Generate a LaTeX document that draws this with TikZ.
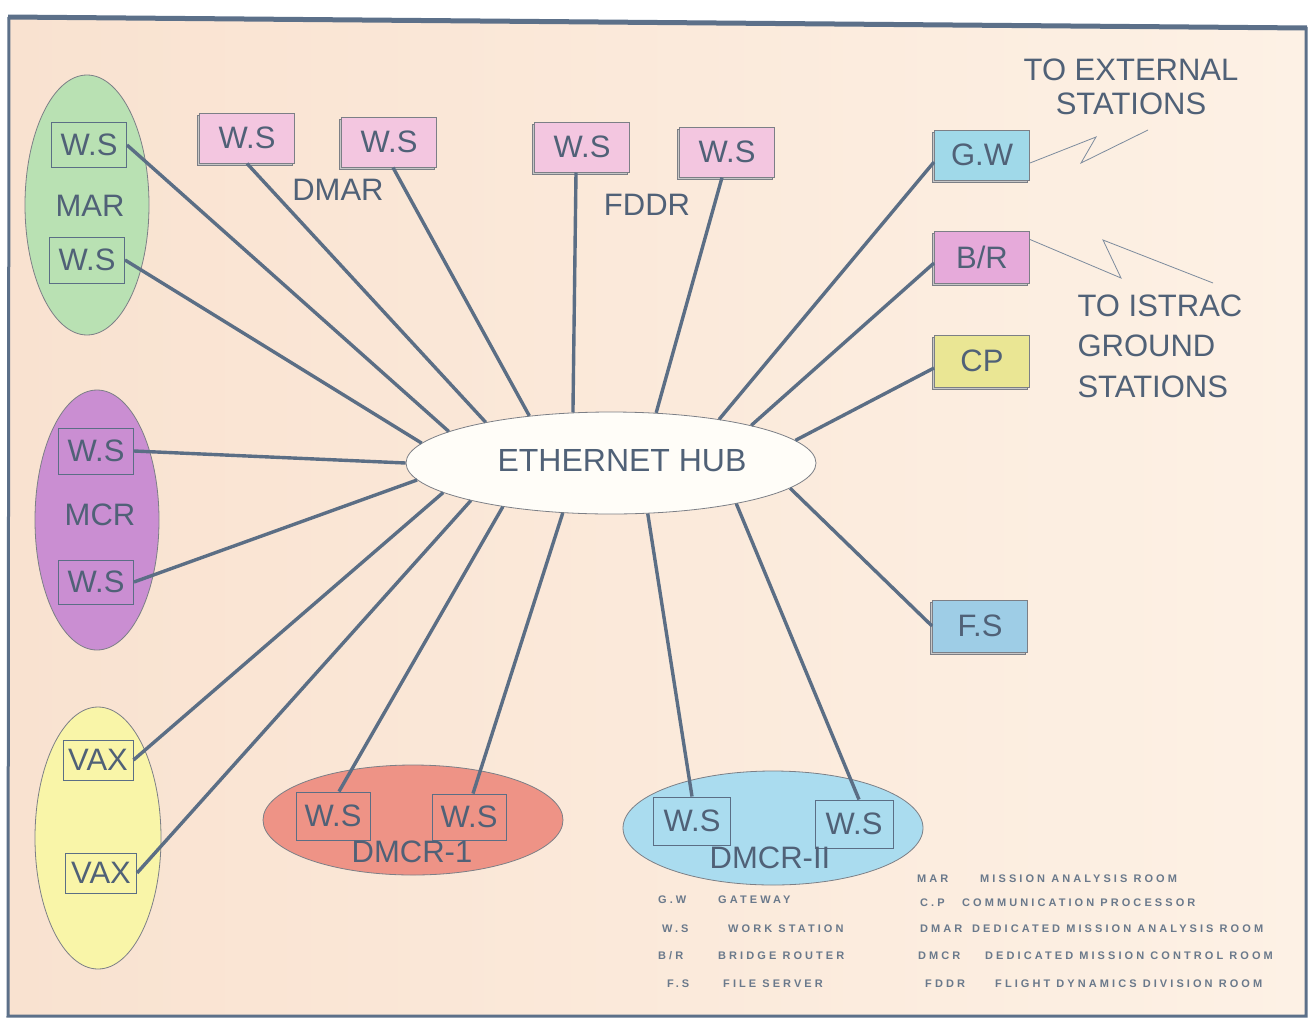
\documentclass[tikz,border=0pt]{standalone}
\usepackage{fontspec}
\setmainfont{Liberation Sans}
\newfontfamily\legendfont[LetterSpace=28]{Liberation Sans}
\usetikzlibrary{shapes.geometric,shadows}

\definecolor{paperL}{HTML}{F9E2D0}
\definecolor{paperR}{HTML}{FDF1E5}
\definecolor{frame}{HTML}{5C7089}
\definecolor{ink}{HTML}{506177}
\definecolor{wire}{HTML}{5B6E85}
\definecolor{rim}{HTML}{7C7F86}
\definecolor{marfill}{HTML}{B9E1B3}
\definecolor{mcrfill}{HTML}{CA8ED2}
\definecolor{vaxfill}{HTML}{F9F5A8}
\definecolor{dmcrAfill}{HTML}{EE9386}
\definecolor{dmcrBfill}{HTML}{AADCEF}
\definecolor{wsfill}{HTML}{F3C6E0}
\definecolor{gwfill}{HTML}{A0D9E9}
\definecolor{brfill}{HTML}{E6AADA}
\definecolor{cpfill}{HTML}{EAE694}
\definecolor{fsfill}{HTML}{9ECDE6}
\definecolor{hubfill}{HTML}{FFFDF8}

\tikzset{
  big/.style={font=\fontsize{31}{36}\selectfont, text=ink},
  room/.style={ellipse, draw=rim, line width=0.8pt, inner sep=0pt},
  inbox/.style={rectangle, draw=wire, line width=1pt, big, inner sep=0pt},
  unit/.style={rectangle, draw=rim, line width=1pt, big, inner sep=0pt,
    minimum width=95pt, minimum height=50pt,
    copy shadow={shadow xshift=-2.5pt, shadow yshift=-2.5pt, fill=black!22, draw=rim}},
  link/.style={draw=wire, line width=3.4pt},
  radio/.style={draw=wire!80, line width=0.8pt},
  legend/.style={font=\legendfont\bfseries\fontsize{11}{13}\selectfont, text=ink!85, anchor=west, inner sep=0pt}
}

\begin{document}
\begin{tikzpicture}[x=1pt,y=-1pt]
\useasboundingbox (0,0) rectangle (1311,1020);

% paper and frame
\fill[white] (0,0) rectangle (1311,1020);
\shade[left color=paperL, right color=paperR] (10,18) -- (1306,28) -- (1306,1016) -- (8,1016) -- cycle;
\draw[frame, line width=5pt] (8,17) -- (1307,28);
\draw[frame, line width=3pt] (1306,27) -- (1306,1016) -- (8,1016) -- (9,17);

% rooms
\node[room, fill=marfill, minimum width=124pt, minimum height=260pt] (mar) at (87,205) {};
\node[room, fill=mcrfill, minimum width=124pt, minimum height=260pt] (mcr) at (97,520) {};
\node[room, fill=vaxfill, minimum width=126pt, minimum height=262pt] (vaxr) at (98,838) {};
\node[room, fill=dmcrAfill, minimum width=300pt, minimum height=110pt] (dmcra) at (413,820) {};
\node[room, fill=dmcrBfill, minimum width=300pt, minimum height=114pt] (dmcrb) at (773,828) {};

% hub
\node[room, fill=hubfill, minimum width=410pt, minimum height=102pt] (hub) at (611,463) {};
\node[big, font=\fontsize{32}{36}\selectfont] (hubtxt) at (622,461) {ETHERNET HUB};

% machines inside rooms
\node[inbox, minimum width=75pt, minimum height=45pt] (maws1) at (89,145) {W.S};
\node[big] (marlbl) at (90,206) {MAR};
\node[inbox, minimum width=75pt, minimum height=46pt] (maws2) at (87,260) {W.S};

\node[inbox, minimum width=75pt, minimum height=46pt] (mcws1) at (96,451) {W.S};
\node[big] (mcrlbl) at (100,515) {MCR};
\node[inbox, minimum width=75pt, minimum height=44pt] (mcws2) at (96,582) {W.S};

\node[inbox, minimum width=70pt, minimum height=40pt] (vax1) at (98,760) {VAX};
\node[inbox, minimum width=71pt, minimum height=40pt] (vax2) at (101,873) {VAX};

\node[inbox, minimum width=74pt, minimum height=48pt] (d1a) at (333,816) {W.S};
\node[inbox, minimum width=74pt, minimum height=46pt] (d1b) at (469,817) {W.S};
\node[big] (d1lbl) at (412,852) {DMCR-1};

\node[inbox, minimum width=77pt, minimum height=48pt] (d2a) at (692,821) {W.S};
\node[inbox, minimum width=78pt, minimum height=48pt] (d2b) at (854,824) {W.S};
\node[big] (d2lbl) at (770,858) {DMCR-II};

% stand-alone units
\node[unit, fill=wsfill] (dm1) at (247,138) {W.S};
\node[unit, fill=wsfill] (dm2) at (389,142) {W.S};
\node[big] (dmarlbl) at (338,190) {DMAR};
\node[unit, fill=wsfill] (fd1) at (582,147) {W.S};
\node[unit, fill=wsfill] (fd2) at (727,152) {W.S};
\node[big] (fddrlbl) at (647,205) {FDDR};

\node[unit, fill=gwfill] (gw) at (982,155) {G.W};
\node[unit, fill=brfill, minimum height=52pt] (br) at (982,257) {B/R};
\node[unit, fill=cpfill, minimum height=52pt] (cp) at (982,361) {CP};
\node[unit, fill=fsfill, minimum height=52pt] (fs) at (980,626) {F.S};

% links to the hub
\draw[link] (maws1.east) -- (hub.169);
\draw[link] (maws2.east) -- (hub.174);
\draw[link] (dm1.south) -- (hub.162);
\draw[link] ([xshift=4pt]dm2.south) -- (hub.150);
\draw[link] ([xshift=-6pt]fd1.south) -- (hub.127);
\draw[link] ([xshift=-5pt]fd2.south) -- (hub.48);
\draw[link] ([yshift=-7pt]gw.west) -- (hub.22);
\draw[link] ([yshift=-6pt]br.west) -- (hub.15.5);
\draw[link] ([yshift=-7pt]cp.west) -- (hub.7.7);
\draw[link] (fs.west) -- (hub.352.7);
\draw[link] (mcws1.east) -- (hub.180);
\draw[link] (mcws2.east) -- (hub.185);
\draw[link] (vax1.east) -- (hub.190);
\draw[link] (vax2.east) -- (hub.195.7);
\draw[link] ([xshift=6pt]d1a.north) -- (hub.202.6);
\draw[link] ([xshift=4pt]d1b.north) -- (hub.226);
\draw[link] (d2a.north) -- (hub.306.5);
\draw[link] ([xshift=5pt]d2b.north) -- (hub.342.8);

% radio links
\coordinate (gz1) at (1096,137);
\coordinate (gz2) at (1081,163);
\coordinate (gz3) at (1148,130);
\draw[radio] ([yshift=-8pt]gw.east) -- (gz1) -- (gz2) -- (gz3);
\coordinate (bz1) at (1121,278);
\coordinate (bz2) at (1103,240);
\coordinate (bz3) at (1213,283);
\draw[radio] ([yshift=-9pt]br.north east) -- (bz1) -- (bz2) -- (bz3);

\node[big, font=\fontsize{31}{34}\selectfont, align=center] (ext) at (1131,87) {TO EXTERNAL\\STATIONS};
\node[big, font=\fontsize{31}{40.5}\selectfont, align=left, anchor=west] (istrac) at (1074,346) {TO ISTRAC\\GROUND\\STATIONS};

% legend
\node[legend] (k1) at (658,900) {G.W};
\node[legend] (v1) at (718,900) {GATEWAY};
\node[legend] (k2) at (662,929) {W.S};
\node[legend] (v2) at (728,929) {WORK STATION};
\node[legend] (k3) at (658,956) {B/R};
\node[legend] (v3) at (718,956) {BRIDGE ROUTER};
\node[legend] (k4) at (667,984) {F.S};
\node[legend] (v4) at (723,984) {FILE SERVER};

\node[legend] (k5) at (917,879) {MAR};
\node[legend] (v5) at (980,879) {MISSION ANALYSIS ROOM};
\node[legend] (k6) at (920,903) {C.P};
\node[legend] (v6) at (962,903) {COMMUNICATION PROCESSOR};
\node[legend] (k7) at (920,929) {DMAR};
\node[legend] (v7) at (972,929) {DEDICATED MISSION ANALYSIS ROOM};
\node[legend] (k8) at (918,956) {DMCR};
\node[legend] (v8) at (985,956) {DEDICATED MISSION CONTROL ROOM};
\node[legend] (k9) at (925,984) {FDDR};
\node[legend] (v9) at (995,984) {FLIGHT DYNAMICS DIVISION ROOM};
\end{tikzpicture}
\end{document}
